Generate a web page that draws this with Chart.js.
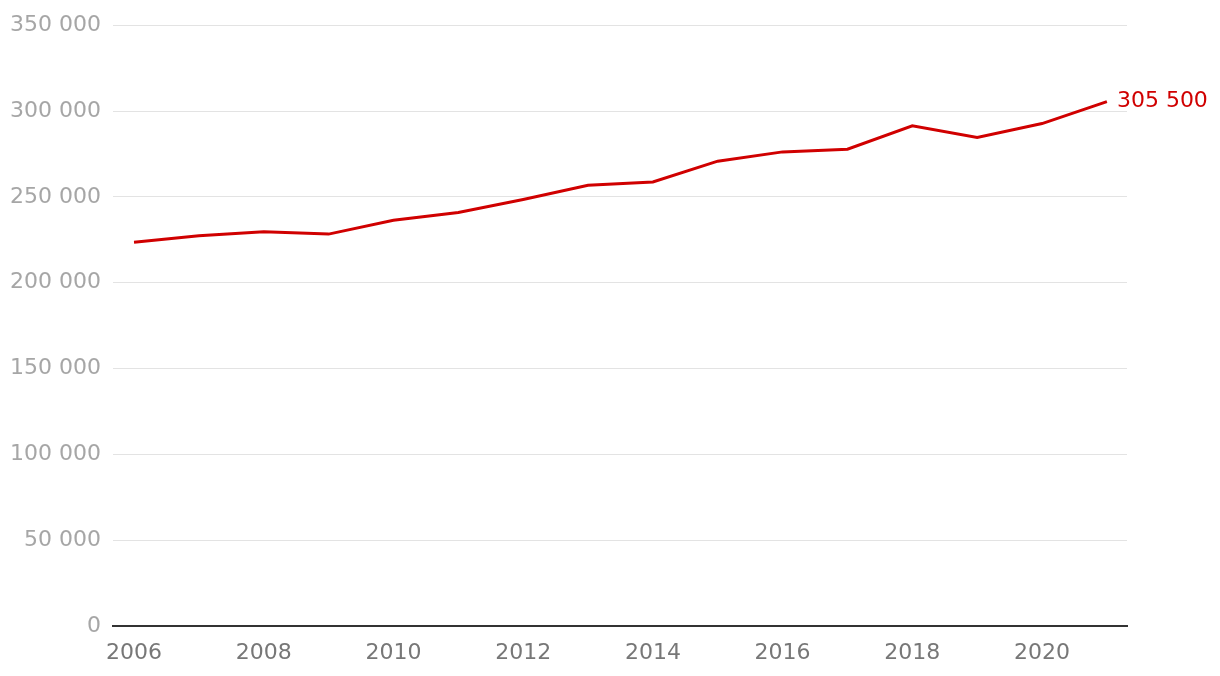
<!DOCTYPE html>
<html>
<head>
<meta charset="utf-8">
<script src="https://cdn.jsdelivr.net/npm/chart.js@4/dist/chart.umd.min.js"></script>
<style>
  html, body { margin: 0; padding: 0; background: #fff; }
  #wrap { position: relative; width: 1220px; height: 676px; }
</style>
</head>
<body>
<div id="wrap"><canvas id="chart" width="1220" height="676"></canvas></div>
<script>
'use strict';

const years  = [2006, 2007, 2008, 2009, 2010, 2011, 2012, 2013, 2014, 2015, 2016, 2017, 2018, 2019, 2020, 2021];
const values = [223500, 227300, 229600, 228300, 236400, 240900, 248500, 256800, 258700, 270800, 276200, 277800, 291400, 284600, 292700, 305500];
const yearTicks  = [2006, 2008, 2010, 2012, 2014, 2016, 2018, 2020];
const valueTicks = [0, 50000, 100000, 150000, 200000, 250000, 300000, 350000];

const RED  = '#d00000';
const FONT = '"DejaVu Sans", sans-serif';

const fmt = (v) => String(v).replace(/\B(?=(\d{3})+(?!\d))/g, ' ');

// label at the end of the line
const endLabel = {
  id: 'endLabel',
  afterDatasetsDraw(chart) {
    const meta = chart.getDatasetMeta(0);
    const pt = meta.data[meta.data.length - 1];
    const ctx = chart.ctx;
    ctx.save();
    ctx.font = `22px ${FONT}`;
    ctx.fillStyle = RED;
    ctx.textAlign = 'left';
    ctx.textBaseline = 'middle';
    ctx.fillText(fmt(values[values.length - 1]), pt.x + 10, pt.y);
    ctx.restore();
  },
};

new Chart(document.getElementById('chart').getContext('2d'), {
  type: 'line',
  data: {
    datasets: [{
      data: years.map((y, i) => ({ x: y, y: values[i] })),
      borderColor: RED,
      borderWidth: 3,
      pointRadius: 0,
      tension: 0,
      fill: false,
    }],
  },
  options: {
    responsive: false,
    animation: false,
    layout: { padding: { top: 15, right: 93, left: 0, bottom: 0 } },
    plugins: {
      legend: { display: false },
      tooltip: { enabled: false },
    },
    scales: {
      x: {
        type: 'linear',
        min: 2005.676,
        max: 2021.31,
        afterBuildTicks: (s) => { s.ticks = yearTicks.map((v) => ({ value: v })); },
        afterFit: (s) => { s.height = 50; },
        grid: { display: false, drawTicks: false },
        border: { display: true, color: '#333', width: 2 },
        ticks: {
          color: '#777',
          font: { family: FONT, size: 22 },
          padding: 14,
          maxRotation: 0,
          autoSkip: false,
          callback: (v) => String(v),
        },
      },
      y: {
        min: 0,
        max: 350000,
        afterBuildTicks: (s) => { s.ticks = valueTicks.map((v) => ({ value: v })); },
        afterFit: (s) => { s.width = 113; },
        grid: { color: '#e3e3e3', lineWidth: 1, drawTicks: false },
        border: { display: false },
        ticks: {
          color: '#a6a6a6',
          font: { family: FONT, size: 22 },
          padding: 12,
          callback: (v) => fmt(v),
        },
      },
    },
  },
  plugins: [endLabel],
});
</script>
</body>
</html>
